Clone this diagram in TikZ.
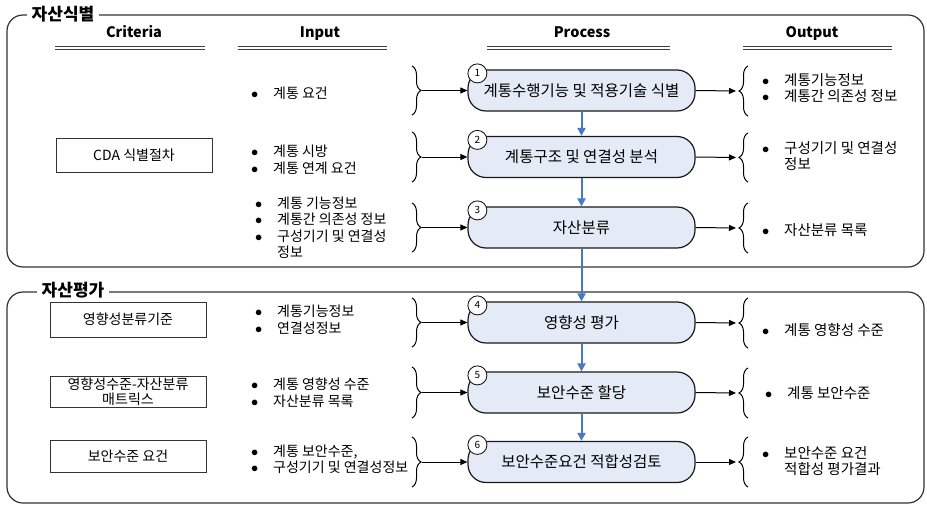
\documentclass[tikz,border=0pt]{standalone}
\usepackage{fontspec}
\setmainfont{Noto Sans CJK KR}
\usetikzlibrary{arrows.meta,decorations.pathreplacing,calc}
\definecolor{procfill}{RGB}{228,235,246}
\definecolor{flowblue}{RGB}{72,122,196}
\newcommand\bl{\makebox[22pt][l]{$\bullet$}}
\newcommand\bsp{\hspace*{22pt}}
\begin{document}
\begin{tikzpicture}[x=1pt,y=-1pt,
  frame/.style={draw=black!80, line width=1.2pt, rounded corners=16pt},
  ftitle/.style={font=\fontsize{17}{19}\selectfont\bfseries, fill=white, inner xsep=5pt, inner ysep=1pt},
  hdr/.style={font=\fontsize{14.5}{16}\selectfont\bfseries, anchor=base},
  hline/.style={draw=black!75, double distance=1.6pt, line width=0.8pt},
  proc/.style={draw=black!90, line width=1.2pt, fill=procfill, rounded corners=18pt, minimum width=227pt, minimum height=41pt, font=\fontsize{15.5}{17}\selectfont},
  num/.style={circle, draw=black!90, fill=white, minimum size=19pt, inner sep=0pt, font=\fontsize{10}{10}\selectfont, line width=0.9pt},
  crit/.style={draw=black!80, line width=0.9pt, minimum width=156pt, align=center, font=\fontsize{14}{14.5}\selectfont, inner sep=0pt},
  txt/.style={anchor=west, align=left, font=\fontsize{14.5}{16.5}\selectfont, inner sep=0pt},
  intxt/.style={txt, font=\fontsize{14}{16.5}\selectfont},
  brin/.style={decorate, decoration={brace, amplitude=9pt}, line width=1pt},
  arr/.style={-{Triangle[length=7pt,width=6pt]}, line width=1pt},
  flow/.style={-{Triangle[length=8pt,width=8pt]}, line width=2pt, draw=flowblue}
]
\useasboundingbox (0,0) rectangle (927,506);

% frames
\draw[frame] (7,15) rectangle (924,267);
\node[ftitle] (t1) at (63,14) {자산식별};
\draw[frame] (7,292) rectangle (924,503);
\node[ftitle] (t2) at (73,290) {자산평가};

% headers
\node[hdr] (hc) at (134,37) {Criteria};
\node[hdr] (hi) at (320,37) {Input};
\node[hdr] (hp) at (582,37) {Process};
\node[hdr] (ho) at (812,37) {Output};
\draw[hline] (55,48) -- (205,48);
\draw[hline] (238,48) -- (387,48);
\draw[hline] (487,48) -- (670,48);
\draw[hline] (743,48) -- (892,48);

% process boxes
\node[proc] (p1) at (581.5,90.5) {계통수행기능 및 적용기술 식별};
\node[proc] (p2) at (581.5,157) {계통구조 및 연결성 분석};
\node[proc] (p3) at (581.5,227.5) {자산분류};
\node[proc] (p4) at (581.5,322.5) {영향성 평가};
\node[proc] (p5) at (581.5,392.5) {보안수준 할당};
\node[proc] (p6) at (581.5,462) {보안수준요건 적합성검토};
\foreach \i in {1,...,6}{
  \node[num] (n\i) at ($(p\i.north west)+(10,4)$) {\i};
}

% flow arrows
\draw[flow] (p1) -- (p2);
\draw[flow] (p2) -- (p3);
\draw[flow] (p3) -- (p4);
\draw[flow] (p4) -- (p5);
\draw[flow] (p5) -- (p6);

% criteria
\node[crit, minimum height=34pt] (c1) at (134,155) {CDA 식별절차};
\node[crit, minimum height=35pt] (c2) at (128,319.5) {영향성분류기준};
\node[crit, minimum height=31pt] (c3) at (128,391.5) {영향성수준-자산분류\\매트릭스};
\node[crit, minimum height=32pt] (c4) at (128,456) {보안수준 요건};

% inputs
\node[intxt] (i1) at (251,93) {\bl 계통 요건};
\node[intxt] (i2) at (251,160) {\bl 계통 시방\\\bl 계통 연계 요건};
\node[intxt] (i3) at (255,227.5) {\bl 계통 기능정보\\\bl 계통간 의존성 정보\\\bl 구성기기 및 연결성\\\bsp 정보};
\node[intxt] (i4) at (255,319.5) {\bl 계통기능정보\\\bl 연결성정보};
\node[intxt] (i5) at (251,392.5) {\bl 계통 영향성 수준\\\bl 자산분류 목록};
\node[intxt] (i6) at (251,459.5) {\bl 계통 보안수준,\\\bl 구성기기 및 연결성정보};

% outputs
\node[txt] (o1) at (762,88) {\bl 계통기능정보\\\bl 계통간 의존성 정보};
\node[txt] (o2) at (762,156) {\bl 구성기기 및 연결성\\\bsp 정보};
\node[txt] (o3) at (762,230) {\bl 자산분류 목록};
\node[txt] (o4) at (762,330) {\bl 계통 영향성 수준};
\node[txt] (o5) at (765,393) {\bl 계통 보안수준};
\node[txt] (o6) at (762,461) {\bl 보안수준 요건\\\bsp 적합성 평가결과};

% input braces
\foreach \i/\t/\b in {1/66/115, 2/132/182, 3/203/252, 4/298/347, 5/367/418, 6/437/487}{
  \draw[brin] (412,\t) -- (412,\b);
  \coordinate (bi\i) at (422,{(\t+\b)/2});
}
\foreach \i in {1,...,6}{ \draw[arr] (bi\i) -- (p\i.west); }

% output braces
\foreach \i/\t/\b in {1/66/116, 2/133/182, 3/203/253, 4/298/348, 5/368/418, 6/437/487}{
  \draw[brin] (748,\b) -- (748,\t);
  \coordinate (bo\i) at (736,{(\t+\b)/2});
}
\foreach \i in {1,...,6}{ \draw[arr] (p\i.east) -- (bo\i); }
\end{tikzpicture}
\end{document}
